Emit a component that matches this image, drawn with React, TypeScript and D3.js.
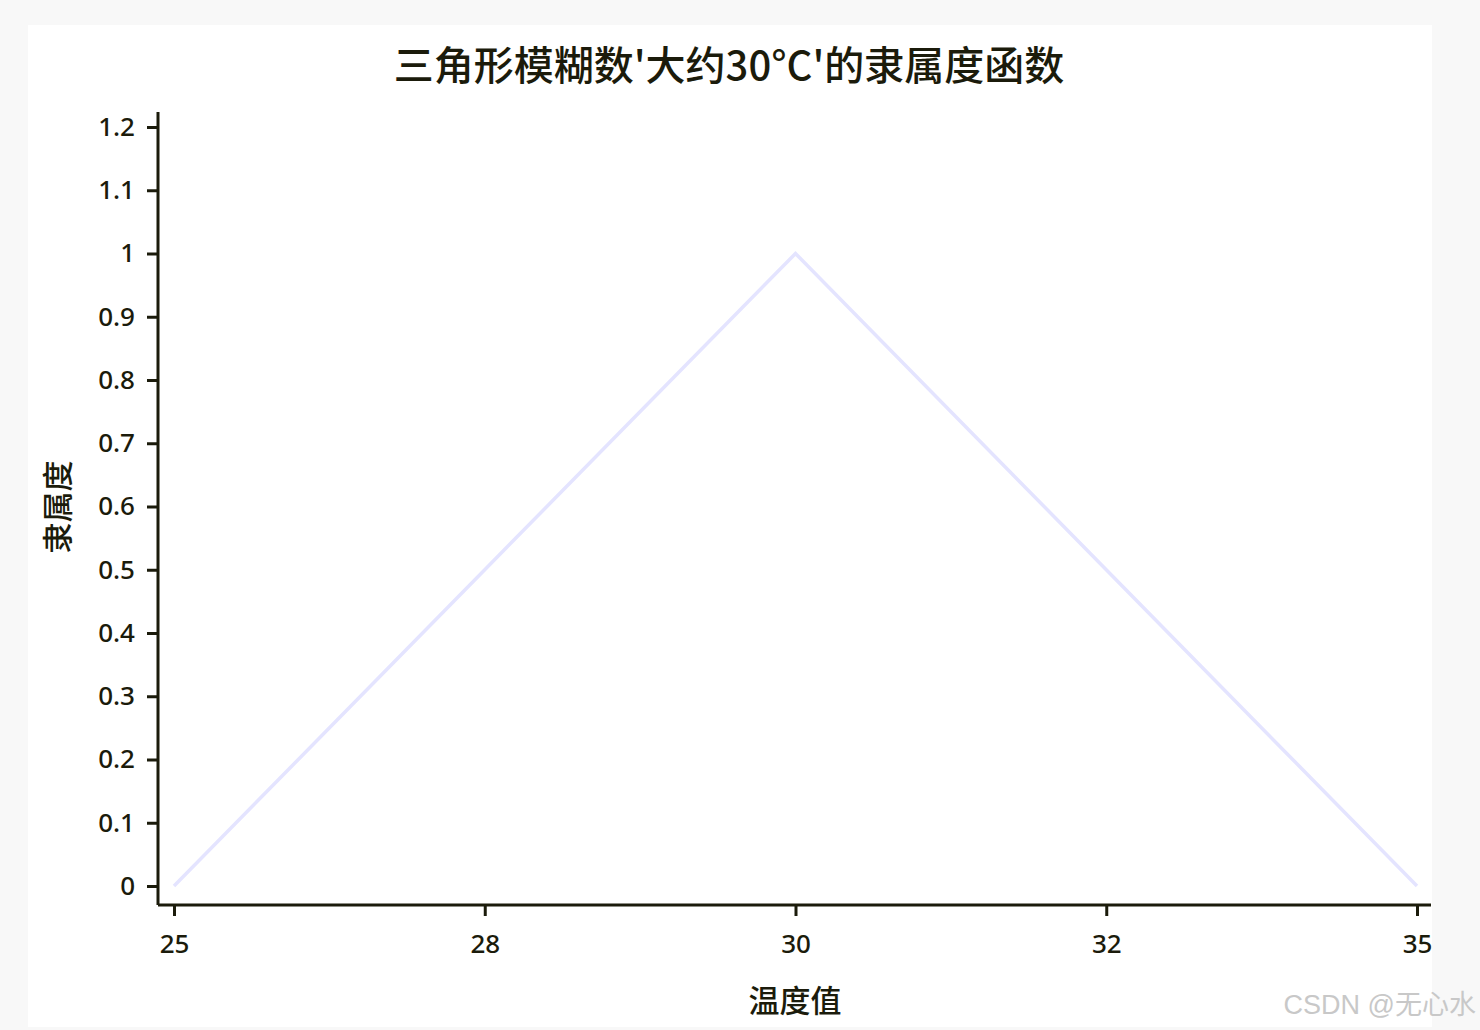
import React, { useEffect, useRef } from "react";
import * as d3 from "d3";

// 温度类别与隶属度
const temps = ["25", "28", "30", "32", "35"];
const membership = [0, 0.5, 1, 0.5, 0];
const yTicks = [0, 0.1, 0.2, 0.3, 0.4, 0.5, 0.6, 0.7, 0.8, 0.9, 1, 1.1, 1.2];

const W = 1480;
const H = 1030;
const ink = "#1b1b0b";
const cjk = "'Noto Sans CJK SC', 'Noto Sans', sans-serif";
const num = "'Noto Sans', 'Noto Sans CJK SC', sans-serif";

const App: React.FC = () => {
  const svgRef = useRef<SVGSVGElement | null>(null);

  useEffect(() => {
    if (!svgRef.current) return;
    const svg = d3.select(svgRef.current);
    svg.selectAll("*").remove();

    // plot frame (axis lines sit a little outside the data range)
    const left = 158, right = 1431, top = 112, bottom = 905;

    const x = d3.scalePoint<string>().domain(temps).range([left + 16, right - 14]);
    const y = d3.scaleLinear().domain([0, 1.2]).range([bottom - 19, top + 15]);

    svg.append("rect").attr("width", W).attr("height", H).attr("fill", "#f8f8f8");
    svg.append("rect")
      .attr("x", 28).attr("y", 25)
      .attr("width", 1404).attr("height", 1002)
      .attr("fill", "#ffffff");

    // title
    svg.append("text")
      .attr("x", 729).attr("y", 80)
      .attr("text-anchor", "middle")
      .attr("font-family", cjk)
      .attr("font-size", 40)
      .attr("font-weight", 500)
      .attr("fill", ink)
      .text("三角形模糊数'大约30°C'的隶属度函数");

    // line
    const line = d3.line<number>()
      .x((_, i) => x(temps[i]) as number)
      .y((d) => y(d));
    svg.append("path")
      .datum(membership)
      .attr("d", line)
      .attr("fill", "none")
      .attr("stroke", "#e4e4ff")
      .attr("stroke-width", 3.5);

    // y axis
    const gy = svg.append("g").attr("transform", `translate(${left},0)`);
    gy.call(
      d3.axisLeft(y)
        .tickValues(yTicks)
        .tickFormat((d) => d3.format("~g")(+d))
        .tickSize(11)
        .tickPadding(12)
    );
    gy.select(".domain").remove();
    gy.selectAll(".tick line").attr("stroke", ink).attr("stroke-width", 3);
    gy.selectAll(".tick text")
      .attr("fill", ink)
      .attr("font-family", num)
      .attr("font-size", 26)
      .attr("font-weight", 500);
    gy.append("line")
      .attr("x1", 0).attr("x2", 0)
      .attr("y1", top).attr("y2", bottom)
      .attr("stroke", ink).attr("stroke-width", 3);

    // x axis
    const gx = svg.append("g").attr("transform", `translate(0,${bottom})`);
    gx.call(d3.axisBottom(x).tickSize(11).tickPadding(19));
    gx.select(".domain").remove();
    gx.selectAll(".tick line").attr("stroke", ink).attr("stroke-width", 3);
    gx.selectAll(".tick text")
      .attr("fill", ink)
      .attr("font-family", num)
      .attr("font-size", 26)
      .attr("font-weight", 500);
    gx.append("line")
      .attr("x1", left).attr("x2", right)
      .attr("y1", 0).attr("y2", 0)
      .attr("stroke", ink).attr("stroke-width", 3);

    // axis titles
    svg.append("text")
      .attr("x", 795).attr("y", 1012)
      .attr("text-anchor", "middle")
      .attr("font-family", cjk)
      .attr("font-size", 31)
      .attr("font-weight", 500)
      .attr("fill", ink)
      .text("温度值");
    svg.append("text")
      .attr("transform", `translate(69,${507}) rotate(-90)`)
      .attr("text-anchor", "middle")
      .attr("font-family", cjk)
      .attr("font-size", 31)
      .attr("font-weight", 500)
      .attr("fill", ink)
      .text("隶属度");

    // watermark
    svg.append("text")
      .attr("x", 1476).attr("y", 1014)
      .attr("text-anchor", "end")
      .attr("font-family", "'Liberation Sans', 'Noto Sans CJK SC', sans-serif")
      .attr("font-size", 27)
      .attr("fill", "#c8c8c8")
      .text("CSDN @无心水");
  }, []);

  return (
    <div style={{ position: "absolute", left: 0, top: 0, width: W, height: H }}>
      <svg ref={svgRef} width={W} height={H} style={{ display: "block" }} />
    </div>
  );
};

export default App;
